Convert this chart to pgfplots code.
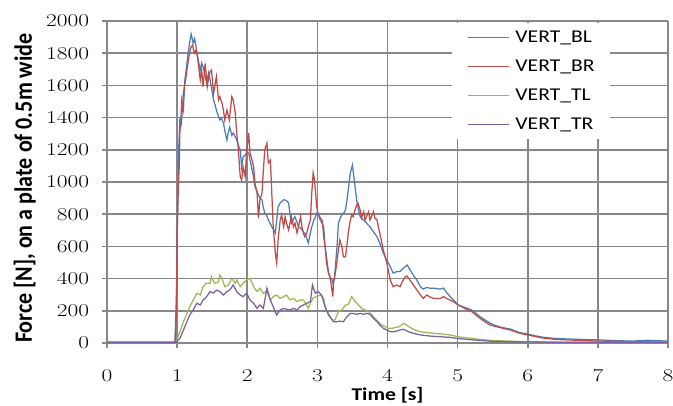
\documentclass[border=0pt]{standalone}
\usepackage{pgfplots}
\pgfplotsset{compat=1.18}
\usepackage{fontspec}
\setmainfont{Carlito}
\newfontfamily\wide[FakeStretch=1.2]{Carlito}
\newfontfamily\ylfont[FakeStretch=0.885]{Carlito}
\newfontfamily\tickfont[FakeStretch=1.3]{Latin Modern Roman}
\definecolor{cBL}{HTML}{4A7EBB}
\definecolor{cBR}{HTML}{BE4B48}
\definecolor{cTL}{HTML}{98B954}
\definecolor{cTR}{HTML}{7D60A0}
\definecolor{gridc}{rgb}{0.53,0.53,0.55}
\begin{document}
\begin{tikzpicture}
\begin{axis}[
  scale only axis, width=561bp, height=322bp,
  xmin=0, xmax=8, ymin=0, ymax=2000,
  xtick={0,1,...,8}, ytick={0,200,...,2000},
  clip=false,
  axis line style={draw=none},
  major tick length=0bp,
  /pgf/number format/assume math mode=true,
  /pgf/number format/1000 sep={},
  tick label style={font=\fontsize{18bp}{20bp}\tickfont},
  xticklabel style={anchor=base, inner sep=0pt, yshift=-38.5bp},
  yticklabel style={anchor=east, inner sep=0pt, xshift=-17.7bp},
  xlabel={Time [s]},
  xlabel style={at={(axis description cs:0.5,0)}, anchor=base, yshift=-57bp, inner sep=0pt, font=\fontsize{18bp}{20bp}\wide\bfseries},
  ylabel={Force [N], on a plate of 0.5m wide},
  ylabel style={at={(axis description cs:-0.134,0.481)}, anchor=base, inner sep=0pt, font=\fontsize{24.9bp}{26bp}\ylfont\bfseries},
  legend style={at={(axis description cs:0.615,0.994)}, anchor=north west, draw=none, fill=white,
    inner xsep=15bp, inner ysep=7bp, row sep=14bp, column sep=6bp,
    nodes={inner sep=0pt, text height=12bp, text depth=3bp},
    font=\fontsize{18bp}{20bp}\wide},
  legend cell align=left,
  legend image code/.code={\draw[mark repeat=2,mark phase=2,#1] plot coordinates {(0bp,0bp) (20bp,0bp) (41bp,0bp)};},
]
\pgfplotsinvokeforeach{0,1,...,8}{
  \addplot[draw=gridc, line width=1.6bp, forget plot] coordinates {(#1,-31) (#1,0) (#1,1000) (#1,2000)};
}
\pgfplotsinvokeforeach{0,200,...,2000}{
  \addplot[draw=gridc, line width=1.6bp, forget plot] coordinates {(-0.0713,#1) (0,#1) (4,#1) (8,#1)};
}
\addplot[color=cBL, line width=1.25bp] coordinates {
(0,5) (0.5,5) (0.97,5) (0.99,300) (1.01,900) (1.02,1180) (1.04,1400) (1.05,1350) (1.065,1509) (1.09,1450) (1.11,1633) (1.13,1700) (1.16,1809) (1.18,1870) (1.2,1919) (1.22,1880) (1.23,1863) (1.25,1890) (1.27,1840) (1.30,1760) (1.33,1695) (1.35,1740) (1.37,1716) (1.40,1660) (1.42,1615) (1.45,1680) (1.47,1633) (1.50,1560) (1.52,1509) (1.54,1480) (1.56,1447) (1.58,1420) (1.61,1385) (1.63,1400) (1.66,1366) (1.68,1320) (1.71,1260) (1.73,1310) (1.75,1341) (1.78,1290) (1.80,1304) (1.83,1280) (1.85,1260) (1.88,1220) (1.90,1199) (1.92,1095) (1.94,1155) (1.97,1167) (1.99,1180) (2.02,1180) (2.04,1136) (2.06,1095) (2.09,1030) (2.11,971) (2.14,940) (2.16,919) (2.18,900) (2.21,888) (2.23,840) (2.25,807) (2.28,790) (2.30,764) (2.33,740) (2.35,722) (2.38,700) (2.40,683) (2.42,760) (2.44,846) (2.47,870) (2.49,877) (2.52,890) (2.54,888) (2.57,880) (2.59,869) (2.61,800) (2.63,745) (2.66,770) (2.68,784) (2.71,750) (2.73,722) (2.76,715) (2.78,702) (2.80,690) (2.82,683) (2.85,650) (2.87,621) (2.90,683) (2.92,722) (2.95,764) (2.97,780) (2.99,807) (3.02,790) (3.04,764) (3.07,740) (3.09,722) (3.11,600) (3.13,536) (3.16,435) (3.18,410) (3.21,391) (3.22,373) (3.24,400) (3.25,435) (3.28,600) (3.30,745) (3.33,780) (3.35,795) (3.38,810) (3.40,826) (3.42,880) (3.44,950) (3.47,1056) (3.50,1105) (3.52,1033) (3.54,960) (3.56,888) (3.59,820) (3.61,784) (3.64,770) (3.66,764) (3.70,745) (3.75,722) (3.80,691) (3.85,660) (3.89,621) (3.94,559) (3.99,515) (4.04,474) (4.08,435) (4.13,443) (4.18,445) (4.23,466) (4.28,484) (4.30,470) (4.32,455) (4.37,420) (4.42,390) (4.47,350) (4.51,335) (4.56,345) (4.61,340) (4.66,341) (4.70,338) (4.75,335) (4.80,341) (4.84,315) (4.89,290) (4.94,267) (5.01,236) (5.07,225) (5.13,217) (5.20,205) (5.26,185) (5.32,163) (5.39,143) (5.46,124) (5.53,110) (5.61,99) (5.68,92) (5.75,87) (5.82,75) (5.89,64) (5.99,57) (6.1,45) (6.2,37) (6.37,29) (6.56,25) (6.8,22) (7.03,19) (7.3,14) (7.5,12) (7.7,17) (7.85,14) (8,12)
};
\addlegendentry{VERT\_BL\hspace{48bp}}
\addplot[color=cBR, line width=1.25bp] coordinates {
(0,3) (0.97,3) (0.99,200) (1.0,700) (1.02,1000) (1.03,1095) (1.04,1323) (1.06,1360) (1.09,1553) (1.127,1654) (1.16,1757) (1.19,1830) (1.22,1851) (1.245,1801) (1.27,1820) (1.29,1778) (1.33,1633) (1.35,1695) (1.37,1592) (1.40,1737) (1.43,1592) (1.46,1677) (1.49,1695) (1.52,1551) (1.56,1654) (1.59,1509) (1.61,1530) (1.64,1490) (1.66,1447) (1.68,1385) (1.71,1447) (1.745,1385) (1.78,1530) (1.80,1509) (1.83,1428) (1.85,1304) (1.87,1219) (1.90,1033) (1.92,1012) (1.94,1095) (1.97,1033) (1.99,1178) (2.02,1304) (2.04,1178) (2.06,1150) (2.09,1095) (2.11,993) (2.14,931) (2.16,776) (2.18,888) (2.21,931) (2.23,1074) (2.25,1199) (2.28,1242) (2.30,1118) (2.33,1136) (2.35,931) (2.37,722) (2.40,559) (2.42,497) (2.44,640) (2.47,764) (2.49,795) (2.52,722) (2.54,784) (2.56,745) (2.59,702) (2.61,745) (2.63,784) (2.66,722) (2.68,745) (2.71,683) (2.73,722) (2.76,784) (2.78,722) (2.80,683) (2.82,660) (2.85,683) (2.87,722) (2.90,764) (2.92,931) (2.94,1056) (2.96,1012) (2.99,850) (3.01,800) (3.04,780) (3.07,760) (3.09,660) (3.11,600) (3.13,500) (3.16,430) (3.18,412) (3.20,350) (3.22,288) (3.23,373) (3.25,420) (3.27,474) (3.30,580) (3.32,640) (3.35,598) (3.37,536) (3.40,536) (3.42,598) (3.44,683) (3.47,764) (3.49,795) (3.51,784) (3.54,830) (3.56,857) (3.58,868) (3.61,826) (3.63,776) (3.66,815) (3.68,764) (3.70,784) (3.73,815) (3.75,764) (3.77,784) (3.80,815) (3.82,776) (3.85,764) (3.87,722) (3.89,683) (3.94,578) (3.99,497) (4.04,391) (4.08,350) (4.13,360) (4.18,350) (4.21,381) (4.25,410) (4.28,416) (4.32,391) (4.37,360) (4.42,329) (4.47,298) (4.51,277) (4.56,298) (4.61,285) (4.66,277) (4.75,277) (4.80,288) (4.84,277) (4.94,257) (5.01,236) (5.13,209) (5.2,195) (5.32,153) (5.46,112) (5.61,95) (5.75,81) (5.89,60) (6.0,50) (6.2,32) (6.4,22) (6.7,17) (7.0,12) (7.5,8) (8,6)
};
\addlegendentry{VERT\_BR\hspace{48bp}}
\addplot[color=cTL, line width=1.25bp] coordinates {
(0,5) (0.97,5) (0.99,14) (1.04,70) (1.09,132) (1.14,184) (1.18,225) (1.23,267) (1.28,309) (1.33,298) (1.37,350) (1.42,371) (1.47,371) (1.49,412) (1.51,390) (1.54,371) (1.59,380) (1.61,422) (1.64,400) (1.68,350) (1.73,360) (1.78,402) (1.83,371) (1.85,391) (1.90,350) (1.94,371) (1.99,391) (2.04,402) (2.09,350) (2.14,319) (2.18,340) (2.23,309) (2.28,320) (2.33,267) (2.37,288) (2.42,298) (2.47,277) (2.52,288) (2.56,298) (2.61,267) (2.66,277) (2.71,257) (2.75,267) (2.80,267) (2.85,236) (2.87,215) (2.90,247) (2.94,280) (2.99,288) (3.04,298) (3.09,277) (3.11,225) (3.16,180) (3.21,143) (3.25,143) (3.30,195) (3.35,205) (3.40,236) (3.44,240) (3.49,288) (3.54,257) (3.58,240) (3.63,215) (3.68,205) (3.73,195) (3.78,174) (3.82,153) (3.87,132) (3.92,112) (3.97,101) (4.01,91) (4.06,91) (4.11,96) (4.16,100) (4.23,122) (4.27,112) (4.32,97) (4.39,81) (4.47,70) (4.56,65) (4.66,60) (4.80,55) (4.89,50) (5.0,40) (5.2,28) (5.5,15) (6,8) (6.5,5) (8,4)
};
\addlegendentry{VERT\_TL\hspace{48bp}}
\addplot[color=cTR, line width=1.25bp] coordinates {
(0,4) (0.97,4) (0.99,8) (1.04,29) (1.09,81) (1.14,132) (1.18,174) (1.23,205) (1.28,247) (1.33,236) (1.37,267) (1.42,288) (1.47,319) (1.52,310) (1.56,329) (1.61,319) (1.66,298) (1.71,319) (1.75,329) (1.80,360) (1.85,319) (1.90,298) (1.94,288) (1.99,309) (2.04,267) (2.09,247) (2.14,215) (2.18,236) (2.23,215) (2.28,340) (2.33,267) (2.37,225) (2.42,174) (2.47,205) (2.52,215) (2.56,210) (2.61,205) (2.66,215) (2.71,205) (2.75,225) (2.80,236) (2.85,247) (2.90,257) (2.93,360) (2.97,309) (3.01,319) (3.06,298) (3.11,225) (3.16,174) (3.18,163) (3.23,132) (3.28,132) (3.32,136) (3.37,132) (3.42,163) (3.47,184) (3.51,184) (3.56,178) (3.61,184) (3.66,178) (3.70,184) (3.75,178) (3.80,153) (3.85,132) (3.89,112) (3.94,91) (3.99,81) (4.04,70) (4.08,70) (4.13,74) (4.18,81) (4.23,85) (4.30,70) (4.37,60) (4.47,50) (4.61,43) (4.75,39) (4.89,35) (5.0,28) (5.2,20) (5.5,10) (6,6) (7,4) (8,4)
};
\addlegendentry{VERT\_TR\hspace{48bp}}
\end{axis}
\pgfresetboundingbox
\path ([shift={(-107bp,-62bp)}]current axis.south west) rectangle ([shift={(5bp,21bp)}]current axis.north east);
\end{tikzpicture}
\end{document}
